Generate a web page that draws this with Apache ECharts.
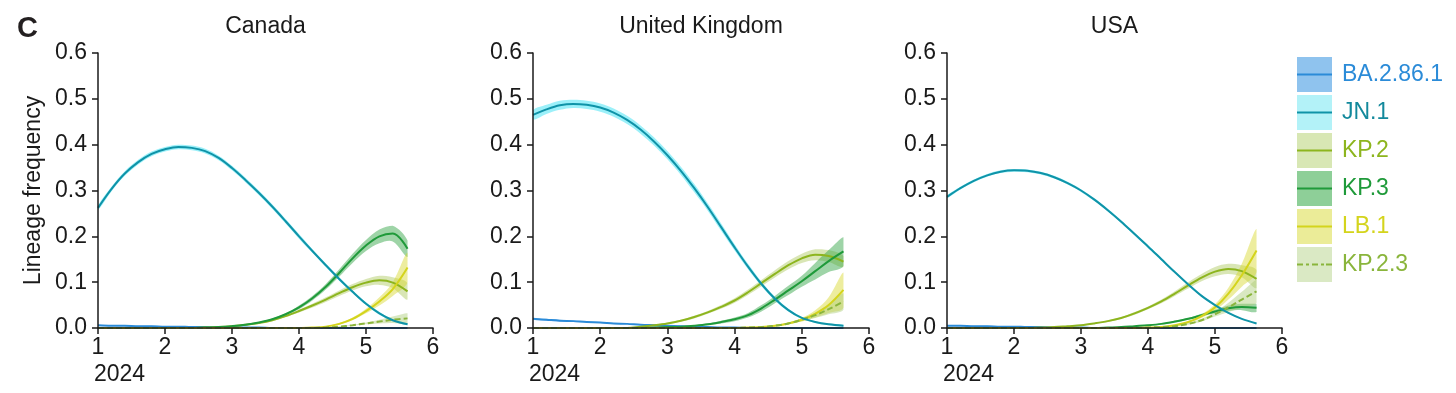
<!DOCTYPE html>
<html>
<head>
<meta charset="utf-8">
<script src="https://cdn.jsdelivr.net/npm/echarts@6/dist/echarts.min.js"></script>
<style>
  html, body { margin: 0; padding: 0; background: #ffffff; }
  #chart { width: 1456px; height: 393px; }
</style>
</head>
<body>
<div id="chart"></div>
<script>
// ---------------- DATA ----------------
const xs = [1.0,1.2,1.4,1.6,1.8,2.0,2.2,2.4,2.6,2.8,3.0,3.2,3.4,3.6,3.8,4.0,4.2,4.4,4.6,4.8,5.0,5.2,5.4,5.62];
const xTicks = [1,2,3,4,5,6];
const yTicks = [0,0.1,0.2,0.3,0.4,0.5,0.6];
const yearLabel = '2024';
const yAxisTitle = 'Lineage frequency';
const panelLabel = 'C';
const countries = ['Canada','United Kingdom','USA'];
const lineages = ['BA.2.86.1','JN.1','KP.2','KP.3','LB.1','KP.2.3'];

// Canada: mean frequency
const canBA   = [0.006,0.005,0.005,0.004,0.004,0.003,0.003,0.002,0.002,0.001,0.001,0.001,0.001,0,0,0,0,0,0,0,0,0,0,0];
const canJN1  = [0.262,0.303,0.337,0.362,0.380,0.390,0.395,0.393,0.386,0.371,0.349,0.323,0.295,0.265,0.233,0.200,0.168,0.137,0.107,0.079,0.053,0.032,0.017,0.008];
const canKP2  = [0,0,0,0,0,0,0,0,0.001,0.002,0.004,0.007,0.011,0.017,0.026,0.037,0.049,0.062,0.076,0.089,0.099,0.104,0.099,0.080];
const canKP3  = [0,0,0,0,0,0,0,0,0.001,0.002,0.004,0.007,0.012,0.019,0.030,0.045,0.065,0.090,0.120,0.152,0.180,0.200,0.206,0.173];
const canLB1  = [0,0,0,0,0,0,0,0,0,0,0,0,0,0,0,0,0.001,0.003,0.009,0.020,0.037,0.058,0.085,0.132];
const canKP23 = [0,0,0,0,0,0,0,0,0,0,0,0,0,0,0,0,0,0.001,0.003,0.006,0.010,0.014,0.018,0.021];
// Canada: half-width of the confidence band
const canBAci   = [0.001,0.001,0.001,0.001,0.001,0.001,0.001,0.001,0.001,0.001,0.001,0.001,0.001,0,0,0,0,0,0,0,0,0,0,0];
const canJN1ci  = [0.005,0.005,0.005,0.005,0.005,0.005,0.005,0.005,0.005,0.005,0.005,0.005,0.005,0.005,0.005,0.005,0.004,0.004,0.004,0.003,0.003,0.003,0.002,0.002];
const canKP2ci  = [0,0,0,0,0,0,0,0,0,0.001,0.001,0.001,0.001,0.002,0.002,0.003,0.004,0.005,0.006,0.007,0.008,0.010,0.012,0.018];
const canKP3ci  = [0,0,0,0,0,0,0,0,0,0.001,0.001,0.001,0.001,0.002,0.002,0.004,0.005,0.006,0.008,0.010,0.012,0.015,0.017,0.018];
const canLB1ci  = [0,0,0,0,0,0,0,0,0,0,0,0,0,0,0,0,0,0.001,0.002,0.003,0.005,0.009,0.015,0.032];
const canKP23ci = [0,0,0,0,0,0,0,0,0,0,0,0,0,0,0,0,0,0,0.001,0.001,0.002,0.004,0.007,0.011];

// United Kingdom: mean frequency
const ukBA   = [0.020,0.018,0.016,0.015,0.013,0.012,0.010,0.009,0.007,0.006,0.005,0.004,0.003,0.002,0.001,0.001,0,0,0,0,0,0,0,0];
const ukJN1  = [0.465,0.477,0.486,0.489,0.487,0.481,0.470,0.454,0.433,0.407,0.377,0.343,0.305,0.264,0.220,0.176,0.134,0.096,0.064,0.039,0.022,0.013,0.008,0.005];
const ukKP2  = [0,0,0,0,0,0,0,0,0.003,0.006,0.010,0.016,0.024,0.034,0.046,0.060,0.078,0.098,0.118,0.137,0.152,0.160,0.157,0.145];
const ukKP3  = [0,0,0,0,0,0,0,0,0,0.001,0.002,0.003,0.005,0.008,0.013,0.019,0.028,0.043,0.062,0.082,0.102,0.124,0.146,0.167];
const ukLB1  = [0,0,0,0,0,0,0,0,0,0,0,0,0,0,0,0,0.001,0.002,0.005,0.010,0.018,0.031,0.050,0.083];
const ukKP23 = [0,0,0,0,0,0,0,0,0,0,0,0,0,0,0,0,0.001,0.002,0.005,0.010,0.018,0.028,0.041,0.058];
// United Kingdom: half-width of the confidence band
const ukBAci   = [0.002,0.002,0.002,0.002,0.001,0.001,0.001,0.001,0.001,0.001,0.001,0.001,0.001,0,0,0,0,0,0,0,0,0,0,0];
const ukJN1ci  = [0.010,0.010,0.010,0.009,0.009,0.009,0.009,0.009,0.009,0.009,0.009,0.009,0.009,0.008,0.008,0.007,0.006,0.005,0.004,0.003,0.002,0.002,0.002,0.002];
const ukKP2ci  = [0,0,0,0,0,0,0,0,0.001,0.001,0.002,0.002,0.003,0.003,0.004,0.005,0.006,0.007,0.008,0.009,0.010,0.012,0.013,0.012];
const ukKP3ci  = [0,0,0,0,0,0,0,0,0,0,0.001,0.001,0.001,0.002,0.003,0.004,0.005,0.007,0.008,0.010,0.012,0.018,0.024,0.031];
const ukLB1ci  = [0,0,0,0,0,0,0,0,0,0,0,0,0,0,0,0,0,0.001,0.001,0.002,0.004,0.008,0.017,0.038];
const ukKP23ci = [0,0,0,0,0,0,0,0,0,0,0,0,0,0,0,0,0,0.001,0.001,0.002,0.003,0.006,0.011,0.018];

// USA: mean frequency
const usaBA   = [0.005,0.005,0.004,0.004,0.003,0.003,0.002,0.002,0.001,0.001,0.001,0,0,0,0,0,0,0,0,0,0,0,0,0];
const usaJN1  = [0.286,0.305,0.321,0.333,0.341,0.344,0.343,0.338,0.329,0.316,0.300,0.280,0.257,0.232,0.205,0.178,0.150,0.122,0.095,0.070,0.050,0.033,0.020,0.010];
const usaKP2  = [0,0,0,0,0,0,0,0.001,0.002,0.004,0.006,0.010,0.015,0.022,0.032,0.044,0.058,0.075,0.093,0.110,0.123,0.129,0.124,0.107];
const usaKP3  = [0,0,0,0,0,0,0,0,0,0,0,0,0.001,0.002,0.004,0.006,0.009,0.014,0.020,0.028,0.036,0.043,0.046,0.044];
const usaLB1  = [0,0,0,0,0,0,0,0,0,0,0,0,0,0,0,0.001,0.002,0.006,0.013,0.026,0.045,0.075,0.115,0.169];
const usaKP23 = [0,0,0,0,0,0,0,0,0,0,0,0,0,0,0,0.001,0.002,0.004,0.009,0.017,0.030,0.045,0.062,0.080];
// USA: half-width of the confidence band
const usaBAci   = [0.001,0.001,0.001,0.001,0.001,0.001,0.001,0.001,0.001,0,0,0,0,0,0,0,0,0,0,0,0,0,0,0];
const usaJN1ci  = [0.003,0.003,0.003,0.003,0.003,0.003,0.003,0.003,0.003,0.003,0.003,0.003,0.003,0.003,0.003,0.003,0.003,0.002,0.002,0.002,0.002,0.002,0.001,0.001];
const usaKP2ci  = [0,0,0,0,0,0,0,0,0,0.001,0.001,0.001,0.002,0.002,0.003,0.003,0.004,0.005,0.007,0.008,0.010,0.011,0.013,0.020];
const usaKP3ci  = [0,0,0,0,0,0,0,0,0,0,0,0,0,0,0.001,0.001,0.001,0.002,0.002,0.003,0.004,0.006,0.007,0.009];
const usaLB1ci  = [0,0,0,0,0,0,0,0,0,0,0,0,0,0,0,0,0.001,0.001,0.002,0.004,0.007,0.013,0.025,0.047];
const usaKP23ci = [0,0,0,0,0,0,0,0,0,0,0,0,0,0,0,0,0,0.001,0.002,0.003,0.005,0.010,0.017,0.025];

// ---------------- STYLE ----------------
const lineColors   = ['#2b8bd8','#0f93a8','#8db51e','#1f9a3a','#d4d41c','#8ab53c'];
const bandColors   = ['rgba(60,150,230,0.45)','rgba(90,230,245,0.6)','rgba(170,200,90,0.45)','rgba(40,160,60,0.45)','rgba(215,215,40,0.45)','rgba(170,205,120,0.45)'];
const swatchColors = ['#8fc3ee','#b3f2f8','#d8e7b4','#8ecf98','#ebec98','#dae9c4'];
const textColors   = ['#2b8bd8','#13899c','#8db51e','#1f9a3a','#d4d41c','#8ab53c'];
const lineZ        = [4, 6, 5, 5, 5, 5];
const FONT = '"Liberation Sans", Arial, Helvetica, sans-serif';

const meanTable = [
  [canBA, canJN1, canKP2, canKP3, canLB1, canKP23],
  [ukBA, ukJN1, ukKP2, ukKP3, ukLB1, ukKP23],
  [usaBA, usaJN1, usaKP2, usaKP3, usaLB1, usaKP23]
];
const ciTable = [
  [canBAci, canJN1ci, canKP2ci, canKP3ci, canLB1ci, canKP23ci],
  [ukBAci, ukJN1ci, ukKP2ci, ukKP3ci, ukLB1ci, ukKP23ci],
  [usaBAci, usaJN1ci, usaKP2ci, usaKP3ci, usaLB1ci, usaKP23ci]
];

const grids = [
  { left: 98,  top: 53, width: 335, height: 275 },
  { left: 533, top: 53, width: 336, height: 275 },
  { left: 947, top: 53, width: 335, height: 275 }
];
const SMOOTH = 0.35;

const xAxes = grids.map((g, i) => ({
  type: 'value', gridIndex: i, min: xTicks[0], max: xTicks[xTicks.length - 1], interval: 1, z: 10,
  axisLine: { show: true, lineStyle: { color: '#1a1a1a', width: 1.5 } },
  axisTick: { show: true, inside: false, length: 6, lineStyle: { color: '#1a1a1a', width: 1.5 } },
  axisLabel: { fontSize: 23, color: '#1a1a1a', fontFamily: FONT, margin: 8 },
  splitLine: { show: false },
  name: yearLabel, nameLocation: 'start', nameGap: 4,
  nameTextStyle: { fontSize: 23, color: '#1a1a1a', fontFamily: FONT, align: 'left', verticalAlign: 'top', padding: [35, 0, 0, 0] }
}));
const yAxes = grids.map((g, i) => ({
  type: 'value', gridIndex: i, min: yTicks[0], max: yTicks[yTicks.length - 1], interval: 0.1, z: 10,
  axisLine: { show: true, lineStyle: { color: '#1a1a1a', width: 1.5 } },
  axisTick: { show: true, inside: false, length: 6, lineStyle: { color: '#1a1a1a', width: 1.5 } },
  axisLabel: { fontSize: 23, color: '#1a1a1a', fontFamily: FONT, margin: 11, formatter: v => v.toFixed(1) },
  splitLine: { show: false },
  name: i === 0 ? yAxisTitle : '', nameLocation: 'middle', nameGap: 53,
  nameTextStyle: { fontSize: 23, color: '#1a1a1a', fontFamily: FONT }
}));

const series = [];
// mean lines
countries.forEach((c, gi) => {
  lineages.forEach((lin, li) => {
    const mean = meanTable[gi][li];
    series.push({
      type: 'line', name: lin, xAxisIndex: gi, yAxisIndex: gi,
      data: xs.map((x, k) => [x, mean[k]]),
      smooth: SMOOTH, symbol: 'none', z: lineZ[li], silent: true,
      lineStyle: { color: lineColors[li], width: 2, type: li === 5 ? [6, 3] : 'solid' },
      itemStyle: { color: lineColors[li] },
      emphasis: { disabled: true }
    });
  });
});
// confidence bands (polygons through the axis scales), only where the band has width
countries.forEach((c, gi) => {
  lineages.forEach((lin, li) => {
    const mean = meanTable[gi][li], ci = ciTable[gi][li];
    const idx = [];
    ci.forEach((w, k) => { if (w > 0) idx.push(k); });
    if (!idx.length) return;
    const first = Math.max(0, idx[0] - 1), last = Math.min(xs.length - 1, idx[idx.length - 1] + 1);
    const ks = [];
    for (let k = first; k <= last; k++) ks.push(k);
    const lo = ks.map(k => Math.max(0, mean[k] - ci[k]));
    const hi = ks.map(k => mean[k] + ci[k]);
    const px = ks.map(k => xs[k]);
    series.push({
      type: 'custom', name: lin, xAxisIndex: gi, yAxisIndex: gi, z: 1, silent: true,
      data: [[px[0], hi[0]]],
      renderItem: (params, api) => {
        const upper = px.map((x, j) => api.coord([x, hi[j]]));
        const lower = px.map((x, j) => api.coord([x, lo[j]])).reverse();
        const pts = upper.concat(lower);
        let x0 = Infinity, y0 = Infinity, x1 = -Infinity, y1 = -Infinity;
        pts.forEach(p => { x0 = Math.min(x0, p[0]); y0 = Math.min(y0, p[1]); x1 = Math.max(x1, p[0]); y1 = Math.max(y1, p[1]); });
        return {
          type: 'group',
          children: [{
            type: 'polygon',
            shape: { points: pts, smooth: SMOOTH, smoothConstraint: [[x0, y0], [x1, y1]] },
            style: { fill: bandColors[li], stroke: null }
          }]
        };
      }
    });
  });
});

// legend icons: line centred in a 35x35 box (tiny corner dots fix the box size)
const boxDots = 'M0,0h0.05v0.05h-0.05zM34.95,34.95h0.05v0.05h-0.05z';
const solidIcon = 'path://M0,16.5h35v2h-35z' + boxDots;
const dashIcon = 'path://M0,16.5h6v2h-6zM9,16.5h3v2h-3zM15,16.5h6v2h-6zM24,16.5h3v2h-3zM29,16.5h6v2h-6z' + boxDots;

const legendBase = {
  orient: 'vertical', left: 1297, top: 57, padding: 0,
  itemWidth: 35, itemHeight: 35, itemGap: 3, selectedMode: false,
  symbolKeepAspect: true
};

const option = {
  animation: false,
  backgroundColor: '#ffffff',
  textStyle: { fontFamily: FONT },
  title: [
    { text: panelLabel, left: 17, top: 14, padding: 0, textStyle: { fontSize: 29, fontWeight: 'bold', color: '#231f20', fontFamily: FONT } }
  ].concat(countries.map((c, i) => ({
    text: c, left: grids[i].left + grids[i].width / 2, top: 15, padding: 0, textAlign: 'center',
    textStyle: { fontSize: 23, fontWeight: 'normal', color: '#1a1a1a', fontFamily: FONT }
  }))),
  grid: grids.map(g => Object.assign({ containLabel: false }, g)),
  xAxis: xAxes,
  yAxis: yAxes,
  legend: [
    Object.assign({}, legendBase, {
      data: lineages.map((l, i) => ({
        name: l, icon: 'rect',
        itemStyle: { color: swatchColors[i], opacity: 1, borderWidth: 0 },
        textStyle: { color: textColors[i] }
      })),
      textStyle: { fontSize: 23, fontFamily: FONT, padding: [0, 0, 0, 5] }
    }),
    Object.assign({}, legendBase, {
      data: lineages.map((l, i) => ({
        name: l, icon: i === 5 ? dashIcon : solidIcon,
        itemStyle: { color: lineColors[i], opacity: 1, borderWidth: 0 }
      })),
      formatter: () => '',
      textStyle: { fontSize: 23, fontFamily: FONT }
    })
  ],
  series
};

const chart = echarts.init(document.getElementById('chart'), null, { renderer: 'canvas' });
chart.setOption(option);
</script>
</body>
</html>
